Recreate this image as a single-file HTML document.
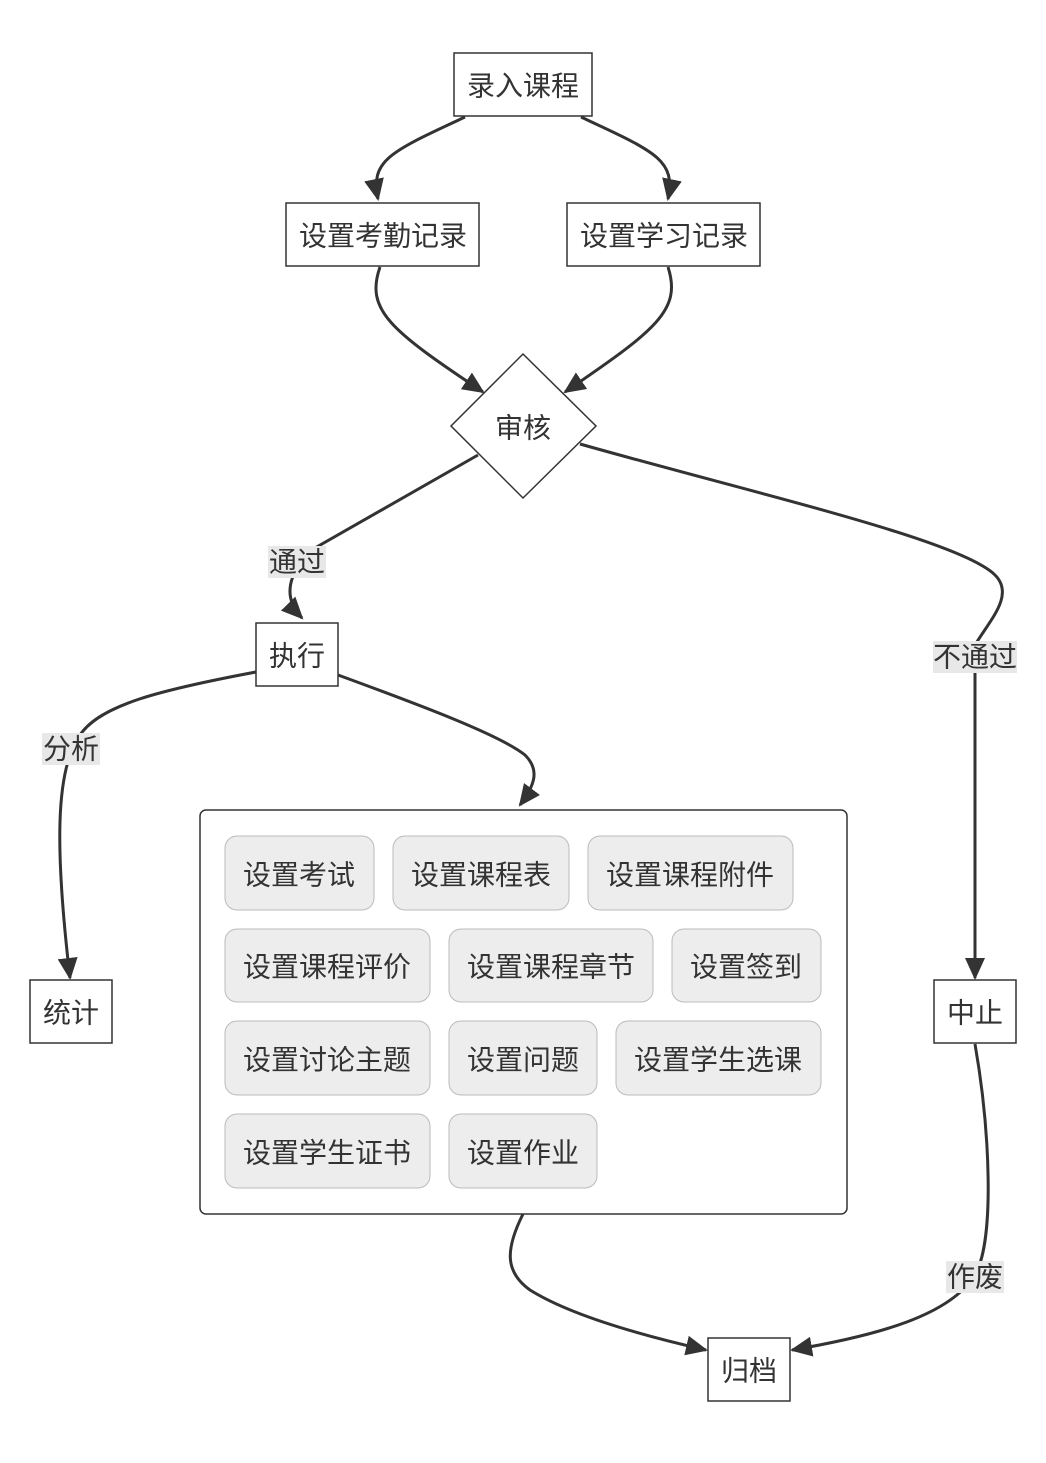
<!DOCTYPE html>
<html><head><meta charset="utf-8"><style>
html,body{margin:0;padding:0;background:#fff}
svg text{font-family:"Liberation Sans","Noto Sans CJK SC",sans-serif;fill:#333;font-size:28px}
</style></head><body>
<svg width="1046" height="1458" viewBox="0 0 1046 1458" xmlns="http://www.w3.org/2000/svg">
<defs>
<marker id="m" viewBox="0 0 22 20" refX="20" refY="10" markerWidth="22" markerHeight="20" orient="auto" markerUnits="userSpaceOnUse">
<path d="M0,0 L22,10 L0,20 z" fill="#333"/>
</marker>
</defs>
<g fill="none" stroke="#333" stroke-width="3">
<path d="M465,117 C390,152 370,160 378,199" marker-end="url(#m)"/>
<path d="M581,117 C656,152 676,160 668,199" marker-end="url(#m)"/>
<path d="M380,267 C365,310 390,330 483,392" marker-end="url(#m)"/>
<path d="M668,267 C682,310 656,330 565,392" marker-end="url(#m)"/>
<path d="M478,455 L315,548 C300,560 275,590 302,618" marker-end="url(#m)"/>
<path d="M580,444 C760,495 960,540 995,575 C1015,595 990,620 975,645 L975,978" marker-end="url(#m)"/>
<path d="M256,672 C160,690 100,705 80,735 C55,770 55,850 70,978" marker-end="url(#m)"/>
<path d="M338,675 C420,705 500,735 525,755 C540,770 535,785 520,805" marker-end="url(#m)"/>
<path d="M523,1214 C505,1250 505,1272 530,1290 C570,1315 640,1335 706,1350" marker-end="url(#m)"/>
<path d="M975,1044 C990,1130 995,1240 975,1275 C950,1315 880,1335 792,1350" marker-end="url(#m)"/>
</g>
<g fill="#fff" stroke="#333" stroke-width="1.5">
<rect x="454" y="53" width="138" height="63"/>
<rect x="286" y="203" width="193" height="63"/>
<rect x="567" y="203" width="193" height="63"/>
<path d="M523,354 L596,426 L523,498 L451,426 z"/>
<rect x="256" y="623" width="82" height="63"/>
<rect x="30" y="980" width="82" height="63"/>
<rect x="934" y="980" width="82" height="63"/>
<rect x="708" y="1338" width="82" height="63"/>
<rect x="200" y="810" width="647" height="404" rx="6"/>
</g>
<g fill="#ededed" stroke="#bbb" stroke-width="1">
<rect x="225" y="836" width="149" height="74" rx="12"/>
<rect x="393" y="836" width="176" height="74" rx="12"/>
<rect x="588" y="836" width="205" height="74" rx="12"/>
<rect x="225" y="929" width="205" height="73" rx="12"/>
<rect x="449" y="929" width="204" height="73" rx="12"/>
<rect x="672" y="929" width="149" height="73" rx="12"/>
<rect x="225" y="1021" width="205" height="74" rx="12"/>
<rect x="449" y="1021" width="148" height="74" rx="12"/>
<rect x="616" y="1021" width="205" height="74" rx="12"/>
<rect x="225" y="1114" width="205" height="74" rx="12"/>
<rect x="449" y="1114" width="148" height="74" rx="12"/>
</g>
<g fill="#e8e8e8">
<rect x="268" y="546" width="58" height="32"/>
<rect x="933" y="641" width="84" height="32"/>
<rect x="42" y="733" width="58" height="32"/>
<rect x="946" y="1261" width="58" height="32"/>
</g>
<g text-anchor="middle" dominant-baseline="central">
<text x="523" y="86">录入课程</text>
<text x="383" y="236">设置考勤记录</text>
<text x="664" y="236">设置学习记录</text>
<text x="523" y="428">审核</text>
<text x="297" y="656">执行</text>
<text x="71" y="1013">统计</text>
<text x="975" y="1013">中止</text>
<text x="749" y="1371">归档</text>
<text x="297" y="562">通过</text>
<text x="975" y="657">不通过</text>
<text x="71" y="749">分析</text>
<text x="975" y="1277">作废</text>
<text x="299" y="875">设置考试</text>
<text x="481" y="875">设置课程表</text>
<text x="690" y="875">设置课程附件</text>
<text x="327" y="967">设置课程评价</text>
<text x="551" y="967">设置课程章节</text>
<text x="746" y="967">设置签到</text>
<text x="327" y="1060">设置讨论主题</text>
<text x="523" y="1060">设置问题</text>
<text x="718" y="1060">设置学生选课</text>
<text x="327" y="1153">设置学生证书</text>
<text x="523" y="1153">设置作业</text>
</g>
</svg>
</body></html>
